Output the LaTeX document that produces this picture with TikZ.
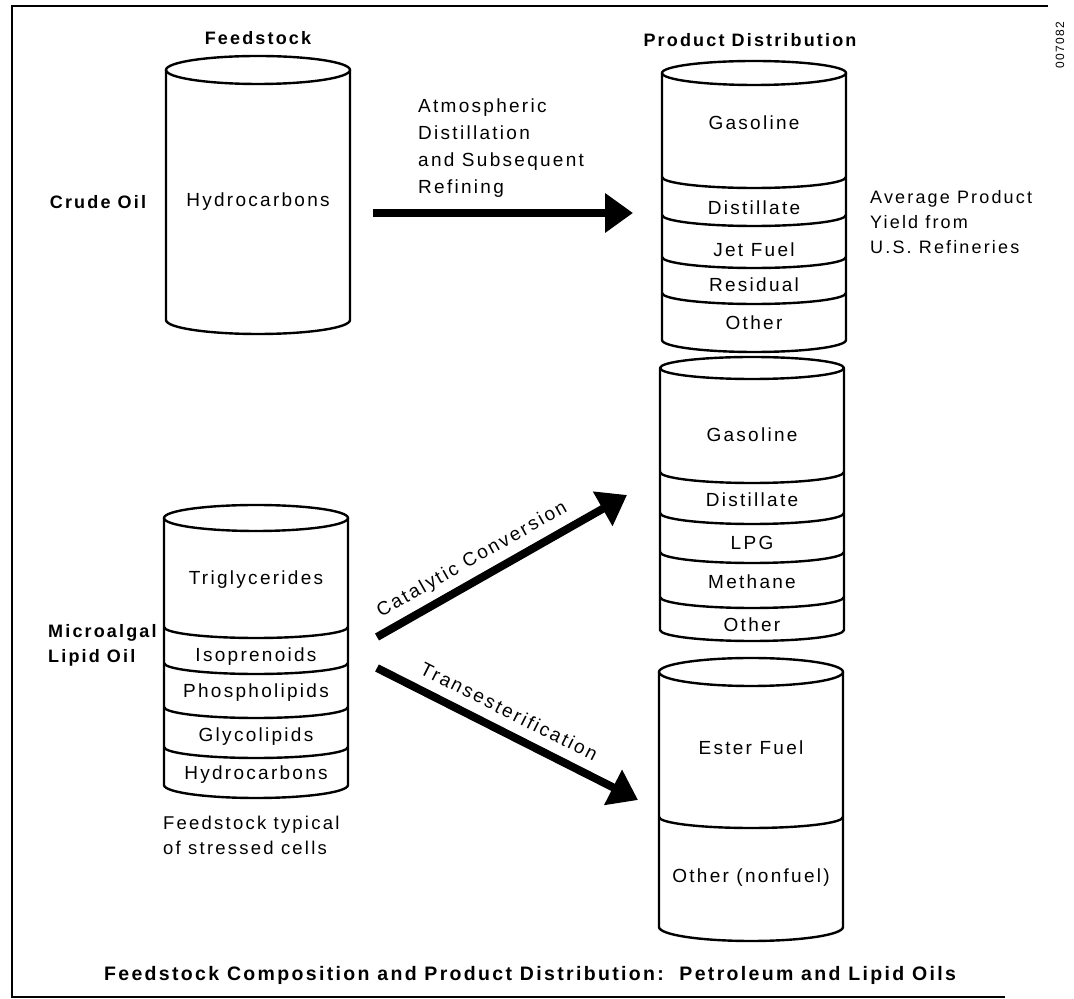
\documentclass[tikz,border=0pt]{standalone}
\usepackage{fontspec}
\setmainfont{Liberation Sans}[LetterSpace=12]
\usetikzlibrary{arrows.meta}

% cylinder: centre x, top y, bottom y, ellipse radius
\newcommand\drum[4]{%
  \draw[drumline] (#1,#2) ellipse [x radius=92, y radius=#4];
  \draw[drumline] (#1-92,#2) -- (#1-92,#3) arc[start angle=180, end angle=360, x radius=92, y radius=#4] -- (#1+92,#2);
}
% divider inside a cylinder: centre x, y
\newcommand\band[2]{%
  \draw[drumline] (#1-92,#2) arc[start angle=180, end angle=360, x radius=92, y radius=11];
}

\begin{document}
\begin{tikzpicture}[x=1pt, y=1pt,
    drumline/.style={line width=2.4pt, line cap=round, line join=round},
    bigarrow/.style={line width=8pt, -{Triangle[length=28pt, width=38pt]}},
    txt/.style={font=\fontsize{19}{27}\selectfont, inner sep=2pt},
    headtxt/.style={font=\fontsize{18}{25}\selectfont\bfseries, inner sep=2pt}]
    \useasboundingbox (0,0) rectangle (1074,999);

    \draw[line width=1.5pt] (1048,993) -- (12,993) -- (12,2) -- (1005,2);
    \node[font=\fontsize{12}{12}\selectfont, rotate=90] (fig) at (1060,954) {007082};

    \node[headtxt] (feedhead) at (258,961) {Feedstock};
    \node[headtxt] (prodhead) at (750,959) {Product Distribution};
    \node[headtxt, font=\fontsize{19.5}{25}\selectfont\bfseries] (title) at (530,24) {Feedstock Composition and Product Distribution:\ \ Petroleum and Lipid Oils};

    % crude oil feedstock
    \drum{258}{929}{679}{14}
    \node[headtxt] (crude) at (98,797) {Crude Oil};
    \node[txt] (crudehc) at (258,797) {Hydrocarbons};

    % refinery products
    \drum{754}{926}{659}{12}
    \foreach \y in {822,784,742,706} \band{754}{\y};
    \node[txt] (ra1) at (754,876) {Gasoline};
    \node[txt] (ra2) at (754,791) {Distillate};
    \node[txt] (ra3) at (754,749) {Jet Fuel};
    \node[txt] (ra4) at (754,714) {Residual};
    \node[txt] (ra5) at (754,676) {Other};
    \node[txt, align=left, anchor=west, font=\fontsize{18}{25}\selectfont] (yield) at (868,777) {Average Product\\Yield from\\U.S. Refineries};

    % microalgal lipid feedstock
    \drum{256}{481}{214}{13}
    \foreach \y in {372,336,292,252} \band{256}{\y};
    \node[headtxt, align=left, anchor=west] (algal) at (46,354) {Microalgal\\Lipid Oil};
    \node[txt] (la1) at (256,419) {Triglycerides};
    \node[txt] (la2) at (256,342) {Isoprenoids};
    \node[txt] (la3) at (256,306) {Phospholipids};
    \node[txt] (la4) at (256,262) {Glycolipids};
    \node[txt] (la5) at (256,224) {Hydrocarbons};
    \node[txt, align=left, anchor=west, font=\fontsize{18.5}{25}\selectfont] (stressed) at (161,164) {Feedstock typical\\of stressed cells};

    % catalytic products
    \drum{752}{631}{369}{11}
    \foreach \y in {527,486,447,402} \band{752}{\y};
    \node[txt] (ca1) at (752,564) {Gasoline};
    \node[txt] (ca2) at (752,499) {Distillate};
    \node[txt] (ca3) at (752,456) {LPG};
    \node[txt] (ca4) at (752,417) {Methane};
    \node[txt] (ca5) at (752,374) {Other};

    % ester products
    \drum{751}{327}{72}{14}
    \band{751}{182}
    \node[txt] (ea1) at (751,251) {Ester Fuel};
    \node[txt] (ea2) at (751,121) {Other (nonfuel)};

    \coordinate (refS) at (373,786);
    \coordinate (refE) at (633,786);
    \coordinate (catS) at (377,362);
    \coordinate (catE) at (627,504);
    \coordinate (trS) at (377,331);
    \coordinate (trE) at (638,199);

    \draw[bigarrow] (refS) -- (refE);
    \node[txt, align=left, anchor=west] (refine) at (416,851) {Atmospheric\\Distillation\\and Subsequent\\Refining};
    \draw[bigarrow] (catS) -- (catE) node[txt, pos=0.42, sloped, above=5pt] (catlbl) {Catalytic Conversion};
    \draw[bigarrow] (trS) -- (trE) node[txt, pos=0.47, sloped, above=8pt] (trlbl) {Transesterification};
\end{tikzpicture}
\end{document}
